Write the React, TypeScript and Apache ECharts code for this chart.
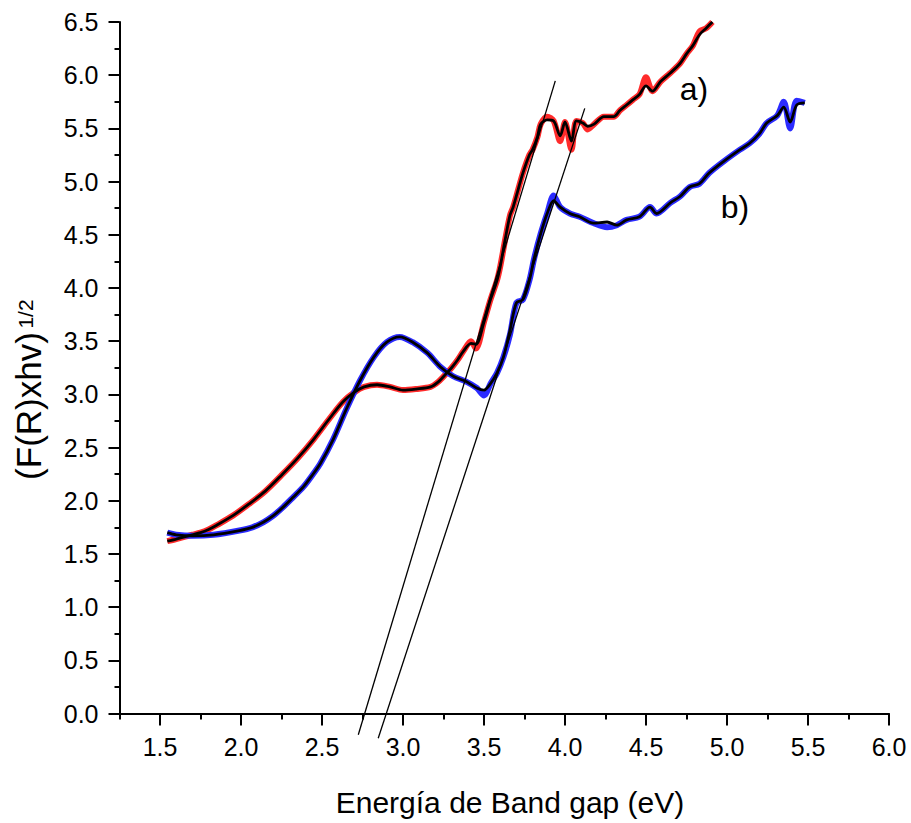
import React, { useEffect, useRef } from "react";
import * as echarts from "echarts";

const FONT = "'Liberation Sans', Arial, Helvetica, sans-serif";

// Curve a) (red raw, black smoothed)
const aX = [1.545, 1.6, 1.7, 1.75, 1.8, 1.85, 1.95, 2.05, 2.15, 2.25, 2.35, 2.45, 2.55, 2.63, 2.7, 2.76, 2.84, 2.92, 3.0, 3.08, 3.17, 3.22, 3.27, 3.3, 3.34, 3.37, 3.42, 3.45, 3.5, 3.54, 3.58, 3.6, 3.63, 3.66, 3.68, 3.71, 3.74, 3.78, 3.8, 3.83, 3.85, 3.89, 3.93, 3.97, 4.0, 4.04, 4.07, 4.11, 4.14, 4.18, 4.24, 4.3, 4.34, 4.38, 4.42, 4.46, 4.5, 4.54, 4.59, 4.65, 4.71, 4.75, 4.79, 4.83, 4.87, 4.91];
const aSmooth = [1.62, 1.64, 1.68, 1.7, 1.73, 1.77, 1.86, 1.97, 2.09, 2.24, 2.4, 2.58, 2.78, 2.93, 3.02, 3.07, 3.09, 3.07, 3.04, 3.05, 3.07, 3.12, 3.2, 3.25, 3.33, 3.4, 3.48, 3.47, 3.68, 3.89, 4.07, 4.2, 4.45, 4.68, 4.76, 4.92, 5.08, 5.25, 5.3, 5.42, 5.54, 5.58, 5.57, 5.43, 5.56, 5.38, 5.57, 5.55, 5.52, 5.54, 5.61, 5.61, 5.67, 5.72, 5.77, 5.82, 5.9, 5.85, 5.94, 6.02, 6.11, 6.2, 6.28, 6.38, 6.44, 6.5];
const aRaw = [1.62, 1.64, 1.68, 1.7, 1.73, 1.77, 1.86, 1.97, 2.09, 2.24, 2.4, 2.58, 2.78, 2.93, 3.02, 3.07, 3.09, 3.07, 3.04, 3.05, 3.07, 3.12, 3.2, 3.25, 3.33, 3.4, 3.5, 3.43, 3.68, 3.89, 4.07, 4.2, 4.45, 4.68, 4.76, 4.92, 5.08, 5.25, 5.3, 5.42, 5.54, 5.61, 5.57, 5.38, 5.56, 5.3, 5.57, 5.55, 5.49, 5.54, 5.61, 5.61, 5.67, 5.72, 5.77, 5.82, 5.98, 5.85, 5.94, 6.02, 6.11, 6.2, 6.28, 6.41, 6.44, 6.5];

// Curve b) (blue raw, black smoothed)
const bX = [1.545, 1.6, 1.7, 1.83, 1.99, 2.07, 2.14, 2.2, 2.26, 2.32, 2.385, 2.44, 2.49, 2.57, 2.65, 2.735, 2.82, 2.9, 2.98, 3.06, 3.15, 3.23, 3.31, 3.39, 3.455, 3.5, 3.54, 3.58, 3.62, 3.66, 3.7, 3.74, 3.78, 3.81, 3.85, 3.89, 3.93, 3.97, 4.03, 4.09, 4.175, 4.26, 4.32, 4.38, 4.46, 4.525, 4.565, 4.65, 4.71, 4.77, 4.83, 4.89, 4.98, 5.08, 5.14, 5.2, 5.245, 5.31, 5.35, 5.39, 5.43, 5.48];
const bSmooth = [1.7, 1.68, 1.67, 1.68, 1.72, 1.75, 1.8, 1.86, 1.94, 2.03, 2.13, 2.24, 2.35, 2.58, 2.86, 3.13, 3.35, 3.49, 3.54, 3.49, 3.39, 3.26, 3.17, 3.12, 3.06, 3.04, 3.1, 3.2, 3.35, 3.6, 3.86, 3.89, 4.07, 4.28, 4.51, 4.7, 4.82, 4.76, 4.7, 4.67, 4.61, 4.62, 4.59, 4.64, 4.67, 4.76, 4.7, 4.8, 4.86, 4.95, 4.98, 5.08, 5.19, 5.3, 5.36, 5.45, 5.55, 5.62, 5.7, 5.56, 5.72, 5.74];
const bRaw = [1.7, 1.68, 1.67, 1.68, 1.72, 1.75, 1.8, 1.86, 1.94, 2.03, 2.13, 2.24, 2.35, 2.58, 2.86, 3.13, 3.35, 3.49, 3.54, 3.49, 3.39, 3.26, 3.17, 3.12, 3.06, 2.99, 3.1, 3.2, 3.35, 3.56, 3.86, 3.89, 4.07, 4.28, 4.51, 4.7, 4.87, 4.76, 4.7, 4.67, 4.61, 4.57, 4.59, 4.64, 4.67, 4.76, 4.7, 4.8, 4.86, 4.95, 4.98, 5.08, 5.19, 5.3, 5.36, 5.45, 5.55, 5.62, 5.75, 5.5, 5.76, 5.74];

// Tangent (extrapolation) lines
const tangentA = [[2.724, -0.2], [3.94, 5.947]];
const tangentB = [[2.847, -0.233], [4.122, 5.688]];

// Curve annotations (data coordinates)
const annotationLabels = ["a)", "b)"];
const annotationX = [4.796, 5.049];
const annotationY = [5.87, 4.76];

// Axis ticks
const xMajor = [1.5, 2.0, 2.5, 3.0, 3.5, 4.0, 4.5, 5.0, 5.5, 6.0];
const xMinor = [1.25, 1.75, 2.25, 2.75, 3.25, 3.75, 4.25, 4.75, 5.25, 5.75];

const xTitle = "Energía de Band gap (eV)";
const yTitle = "(F(R)xhv)";
const ySup = "1/2";

const zip = (xs: number[], ys: number[]) => xs.map((x, i) => [x, ys[i]]);

export default function App() {
  const ref = useRef<HTMLDivElement>(null);
  useEffect(() => {
    if (!ref.current) return;
    const chart = echarts.init(ref.current, null, { renderer: "svg" });
    const black = "#000";
    const option: any = {
      animation: false,
      backgroundColor: "#fff",
      grid: { left: 119.5, right: 22, top: 22, bottom: 109.5, containLabel: false, outerBoundsMode: "none" },
      xAxis: [
        {
          type: "value",
          min: 1.25,
          max: 6.0,
          position: "bottom",
          axisLine: { show: true, onZero: false, lineStyle: { color: black, width: 2 } },
          axisTick: { show: true, customValues: xMajor, length: 12, lineStyle: { color: black, width: 2 } },
          axisLabel: {
            show: true,
            customValues: xMajor,
            formatter: (v: number) => v.toFixed(1),
            fontSize: 25,
            fontFamily: FONT,
            color: black,
            margin: 21,
          },
          splitLine: { show: false },
        },
        {
          type: "value",
          min: 1.25,
          max: 6.0,
          position: "bottom",
          axisLine: { show: false, onZero: false },
          axisTick: { show: true, customValues: xMinor, length: 6, lineStyle: { color: black, width: 2 } },
          axisLabel: { show: false },
          splitLine: { show: false },
        },
      ],
      yAxis: {
        type: "value",
        min: 0,
        max: 6.5,
        interval: 0.5,
        axisLine: { show: true, onZero: false, lineStyle: { color: black, width: 2 } },
        axisTick: { show: true, length: 11, lineStyle: { color: black, width: 2 } },
        minorTick: { show: true, splitNumber: 2, length: 5, lineStyle: { color: black, width: 2 } },
        axisLabel: {
          formatter: (v: number) => v.toFixed(1),
          fontSize: 25,
          fontFamily: FONT,
          color: black,
          margin: 21,
        },
        splitLine: { show: false },
        minorSplitLine: { show: false },
      },
      series: [
        {
          type: "line",
          data: zip(aX, aRaw),
          symbol: "none",
          smooth: 0.3,
          lineStyle: { color: "#ff2b2b", width: 6 },
          silent: true,
        },
        {
          type: "line",
          data: zip(bX, bRaw),
          symbol: "none",
          smooth: 0.3,
          lineStyle: { color: "#2b2bff", width: 6 },
          silent: true,
        },
        {
          type: "line",
          data: zip(aX, aSmooth),
          symbol: "none",
          smooth: 0.3,
          lineStyle: { color: black, width: 2.8 },
          silent: true,
        },
        {
          type: "line",
          data: zip(bX, bSmooth),
          symbol: "none",
          smooth: 0.3,
          lineStyle: { color: black, width: 2.8 },
          silent: true,
        },
        {
          type: "line",
          data: tangentA,
          symbol: "none",
          clip: false,
          lineStyle: { color: black, width: 1.3 },
          silent: true,
        },
        {
          type: "line",
          data: tangentB,
          symbol: "none",
          clip: false,
          lineStyle: { color: black, width: 1.3 },
          silent: true,
        },
      ],
      graphic: [
        {
          type: "text",
          x: 510,
          y: 802,
          style: { text: xTitle, fontSize: 30, fontFamily: FONT, fill: black, align: "center", verticalAlign: "middle" },
        },
        {
          type: "text",
          x: 28.5,
          y: 406,
          rotation: Math.PI / 2,
          style: { text: yTitle, fontSize: 35, fontFamily: FONT, fill: black, align: "center", verticalAlign: "middle" },
        },
        {
          type: "text",
          x: 25,
          y: 314,
          rotation: Math.PI / 2,
          style: { text: ySup, fontSize: 21, fontFamily: FONT, fill: black, align: "center", verticalAlign: "middle" },
        },
      ],
    };
    chart.setOption(option);
    const labelGraphics = annotationLabels.map((t, i) => {
      const p = chart.convertToPixel({ gridIndex: 0 }, [annotationX[i], annotationY[i]]) as number[];
      return {
        type: "text",
        x: p[0],
        y: p[1],
        style: { text: t, fontSize: 32, fontFamily: FONT, fill: black, align: "center", verticalAlign: "middle" },
      };
    });
    chart.setOption({ graphic: [...option.graphic, ...labelGraphics] });
    return () => chart.dispose();
  }, []);
  return (
    <div
      ref={ref}
      style={{ position: "fixed", left: 0, top: 0, width: 911, height: 823, background: "#fff" }}
    />
  );
}
